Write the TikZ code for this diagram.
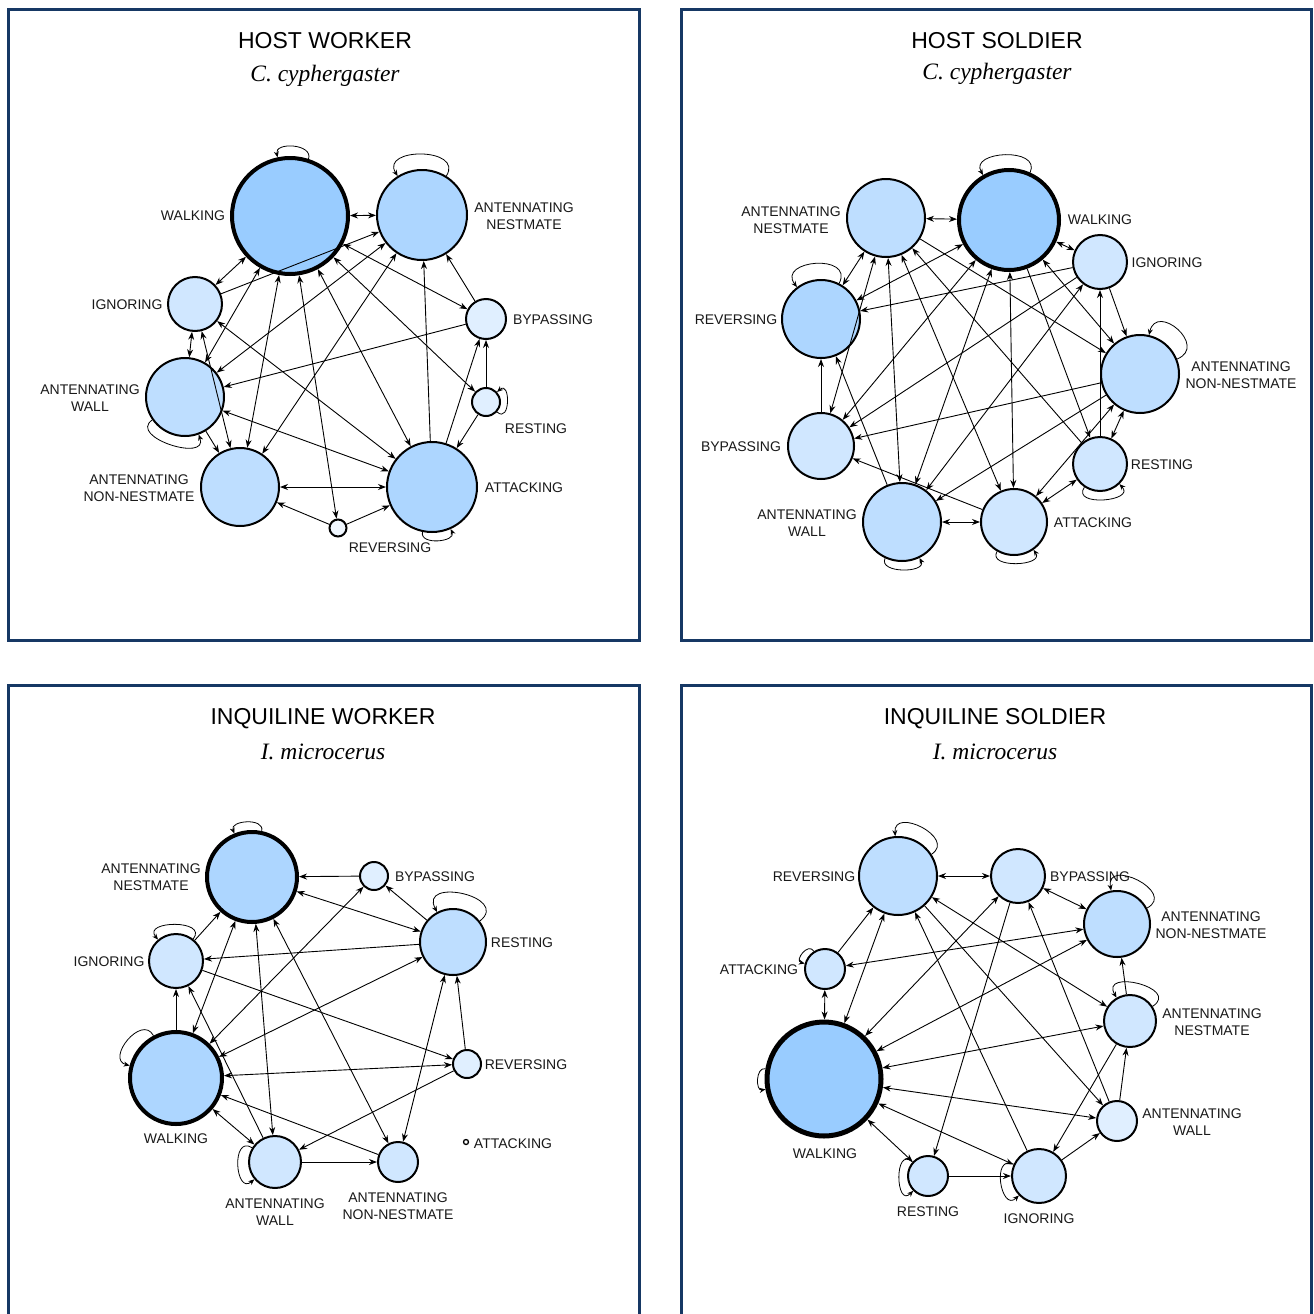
\documentclass[tikz,border=0pt]{standalone}
\usepackage{fontspec}
\setmainfont{Liberation Sans}
\newfontfamily\titit{Liberation Serif}
\usetikzlibrary{arrows.meta}
\definecolor{frm}{RGB}{22,56,100}
\definecolor{ca}{RGB}{153,204,255}
\definecolor{cb}{RGB}{173,214,255}
\definecolor{cc}{RGB}{190,222,255}
\definecolor{cd}{RGB}{208,231,255}
\definecolor{ce}{RGB}{224,239,255}
\definecolor{cf}{RGB}{240,247,255}
\definecolor{txt}{RGB}{25,25,25}
\newcommand\lp[4]{\draw[lpe] (#1.#2) .. controls ([shift={(#2:#4pt)}]#1.#2) and ([shift={(#3:#4pt)}]#1.#3) .. (#1.#3);}
\begin{document}
\begin{tikzpicture}[x=1pt,y=-1pt,
  nd/.style={circle, draw=black, line width=2pt, inner sep=0pt},
  thk/.style={line width=4pt},
  lab/.style={font=\fontsize{14}{16.5}\selectfont, text=txt, align=center, inner sep=0pt},
  ttl/.style={font=\fontsize{23}{26}\selectfont, text=black, inner sep=0pt},
  sub/.style={font=\titit\itshape\fontsize{23.5}{26}\selectfont, text=black, inner sep=0pt},
  e/.style={draw, line width=0.9pt, -{Stealth[length=8pt,width=6pt]}},
  ee/.style={draw, line width=0.9pt, {Stealth[length=8pt,width=6pt]}-{Stealth[length=8pt,width=6pt]}},
  lpe/.style={draw, line width=0.8pt, -{Stealth[length=6pt,width=5pt]}},
  fr/.style={draw=frm, line width=3pt}]
\useasboundingbox (0,0) rectangle (1314,1314);
\clip (0,0) rectangle (1314,1314);
\fill[white] (0,0) rectangle (1314,1314);
% frames
\draw[fr] (8,9.5) rectangle (639.5,640);
\draw[fr] (681.5,9.5) rectangle (1311.5,640);
\draw[fr] (8,685) rectangle (639.5,1340);
\draw[fr] (681.5,685) rectangle (1311.5,1340);
% titles
\node[ttl] (t1) at (325,41) {HOST WORKER};
\node[sub] (s1) at (325,76) {C. cyphergaster};
\node[ttl] (t2) at (997,41) {HOST SOLDIER};
\node[sub] (s2) at (997,74) {C. cyphergaster};
\node[ttl] (t3) at (323,719) {INQUILINE WORKER};
\node[sub] (s3) at (323,752) {I. microcerus};
\node[ttl] (t4) at (995,719) {INQUILINE SOLDIER};
\node[sub] (s4) at (995,752) {I. microcerus};

% ================= PANEL 1 =================
\node[nd, thk, fill=ca, minimum size=116pt] (aW) at (290,216) {};
\node[nd, fill=cb, minimum size=90pt] (aN) at (422,215) {};
\node[nd, fill=cd, minimum size=54pt] (aI) at (195,304) {};
\node[nd, fill=ce, minimum size=40pt] (aB) at (486,319) {};
\node[nd, fill=ce, minimum size=28pt] (aR) at (486,402) {};
\node[nd, fill=cc, minimum size=78pt] (aL) at (185,397) {};
\node[nd, fill=cc, minimum size=78pt] (aO) at (240,487) {};
\node[nd, fill=cb, minimum size=90pt] (aA) at (432,487) {};
\node[nd, fill=cf, minimum size=17pt] (aV) at (338,528) {};
\node[lab] (aWl) at (193,216) {WALKING};
\node[lab] (aNl) at (524,216) {ANTENNATING\\NESTMATE};
\node[lab] (aIl) at (127,305) {IGNORING};
\node[lab] (aBl) at (553,320) {BYPASSING};
\node[lab] (aRl) at (536,429) {RESTING};
\node[lab] (aLl) at (90,398) {ANTENNATING\\WALL};
\node[lab] (aOl) at (139,488) {ANTENNATING\\NON-NESTMATE};
\node[lab] (aAl) at (524,488) {ATTACKING};
\node[lab] (aVl) at (390,548) {REVERSING};
\foreach \a/\b in {aW/aN,aW/aI,aW/aL,aW/aO,aW/aV,aW/aA,aW/aR,aW/aB,aI/aL,aI/aO,aI/aA,aN/aL,aN/aO,aL/aA,aO/aA}
  \draw[ee] (\a) -- (\b);
\foreach \a/\b in {aI/aN,aA/aN,aB/aN,aB/aL,aR/aB,aA/aB,aR/aA,aL/aO,aV/aO,aV/aA}
  \draw[e] (\a) -- (\b);
\lp{aW}{72}{102}{16}
\lp{aN}{58}{122}{34}
\lp{aR}{-42}{42}{18}
\lp{aL}{215}{290}{30}
\lp{aA}{258}{294}{14}

% ================= PANEL 2 =================
\node[nd, fill=cc, minimum size=78pt] (bN) at (886,218) {};
\node[nd, thk, fill=ca, minimum size=100pt] (bW) at (1009,220) {};
\node[nd, fill=cd, minimum size=54pt] (bI) at (1100,262) {};
\node[nd, fill=cc, minimum size=78pt] (bO) at (1140,374) {};
\node[nd, fill=cd, minimum size=54pt] (bR) at (1100,464) {};
\node[nd, fill=cd, minimum size=66pt] (bA) at (1014,522) {};
\node[nd, fill=cc, minimum size=78pt] (bL) at (902,522) {};
\node[nd, fill=cd, minimum size=66pt] (bB) at (821,446) {};
\node[nd, fill=cb, minimum size=78pt] (bV) at (821,319) {};
\node[lab] (bNl) at (791,220) {ANTENNATING\\NESTMATE};
\node[lab] (bWl) at (1100,220) {WALKING};
\node[lab] (bIl) at (1167,263) {IGNORING};
\node[lab] (bOl) at (1241,375) {ANTENNATING\\NON-NESTMATE};
\node[lab] (bRl) at (1162,465) {RESTING};
\node[lab] (bAl) at (1093,523) {ATTACKING};
\node[lab] (bLl) at (807,523) {ANTENNATING\\WALL};
\node[lab] (bBl) at (741,447) {BYPASSING};
\node[lab] (bVl) at (736,320) {REVERSING};
\foreach \a/\b in {bN/bW,bN/bV,bN/bB,bN/bL,bN/bA,bW/bI,bW/bV,bW/bB,bW/bL,bW/bA,bW/bO,bI/bL,bL/bA,bA/bR,bA/bO,bR/bO}
  \draw[ee] (\a) -- (\b);
\foreach \a/\b in {bR/bN,bN/bO,bW/bR,bI/bV,bI/bB,bI/bO,bR/bI,bB/bV,bL/bV,bO/bB,bA/bB,bO/bL}
  \draw[e] (\a) -- (\b);
\lp{bW}{66}{120}{28}
\lp{bV}{63}{127}{34}
\lp{bO}{22}{77}{34}
\lp{bR}{236}{314}{24}
\lp{bA}{240}{305}{20}
\lp{bL}{245}{296}{17}

% ================= PANEL 3 =================
\node[nd, thk, fill=cb, minimum size=90pt] (cN) at (252,877) {};
\node[nd, fill=cd, minimum size=54pt] (cI) at (176,961) {};
\node[nd, thk, fill=cb, minimum size=92pt] (cW) at (176,1078) {};
\node[nd, fill=cd, minimum size=52pt] (cL) at (275,1162) {};
\node[nd, fill=ce, minimum size=28pt] (cB) at (374,876) {};
\node[nd, fill=cc, minimum size=66pt] (cR) at (453,942) {};
\node[nd, fill=ce, minimum size=28pt] (cV) at (467,1064) {};
\node[nd, line width=1.3pt, fill=white, minimum size=5pt] (cA) at (466,1142) {};
\node[nd, fill=cd, minimum size=40pt] (cO) at (398,1162) {};
\node[lab] (cNl) at (151,877) {ANTENNATING\\NESTMATE};
\node[lab] (cIl) at (109,962) {IGNORING};
\node[lab] (cWl) at (176,1139) {WALKING};
\node[lab] (cLl) at (275,1212) {ANTENNATING\\WALL};
\node[lab] (cBl) at (435,877) {BYPASSING};
\node[lab] (cRl) at (522,943) {RESTING};
\node[lab] (cVl) at (526,1065) {REVERSING};
\node[lab] (cAl) at (513,1144) {ATTACKING};
\node[lab] (cOl) at (398,1206) {ANTENNATING\\NON-NESTMATE};
\foreach \a/\b in {cN/cR,cW/cN,cN/cL,cN/cO,cW/cB,cW/cR,cW/cV,cW/cL,cR/cO}
  \draw[ee] (\a) -- (\b);
\foreach \a/\b in {cB/cN,cR/cB,cR/cI,cI/cN,cW/cI,cO/cW,cV/cL,cL/cO,cL/cI,cI/cV,cV/cR}
  \draw[e] (\a) -- (\b);
\lp{cN}{78}{112}{14}
\lp{cI}{52}{130}{25}
\lp{cW}{118}{165}{25}
\lp{cL}{148}{220}{25}
\lp{cR}{38}{118}{40}

% ================= PANEL 4 =================
\node[nd, fill=cc, minimum size=78pt] (dV) at (898,876) {};
\node[nd, fill=cd, minimum size=40pt] (dA) at (825,969) {};
\node[nd, line width=5pt, fill=ca, minimum size=114pt] (dW) at (824,1079) {};
\node[nd, fill=cd, minimum size=40pt] (dR) at (928,1176) {};
\node[nd, fill=cd, minimum size=54pt] (dB) at (1018,876) {};
\node[nd, fill=cc, minimum size=66pt] (dO) at (1117,924) {};
\node[nd, fill=cd, minimum size=52pt] (dN) at (1130,1021) {};
\node[nd, fill=ce, minimum size=40pt] (dL) at (1117,1121) {};
\node[nd, fill=cd, minimum size=54pt] (dI) at (1039,1176) {};
\node[lab] (dVl) at (814,877) {REVERSING};
\node[lab] (dAl) at (759,970) {ATTACKING};
\node[lab] (dWl) at (825,1154) {WALKING};
\node[lab] (dRl) at (928,1212) {RESTING};
\node[lab] (dBl) at (1090,877) {BYPASSING};
\node[lab] (dOl) at (1211,925) {ANTENNATING\\NON-NESTMATE};
\node[lab] (dNl) at (1212,1022) {ANTENNATING\\NESTMATE};
\node[lab] (dLl) at (1192,1122) {ANTENNATING\\WALL};
\node[lab] (dIl) at (1039,1219) {IGNORING};
\foreach \a/\b in {dV/dB,dA/dW,dW/dV,dW/dB,dV/dN,dB/dO,dO/dA,dW/dO,dW/dN,dW/dL,dW/dI,dW/dR}
  \draw[ee] (\a) -- (\b);
\foreach \a/\b in {dA/dV,dV/dL,dI/dV,dB/dR,dL/dB,dN/dO,dN/dI,dL/dN,dI/dL,dR/dI}
  \draw[e] (\a) -- (\b);
\lp{dV}{33}{94}{30}
\lp{dA}{122}{165}{11}
\lp{dW}{170}{190}{10}
\lp{dR}{138}{225}{25}
\lp{dI}{155}{224}{25}
\lp{dO}{28}{100}{34}
\lp{dN}{33}{120}{34}
\end{tikzpicture}
\end{document}
